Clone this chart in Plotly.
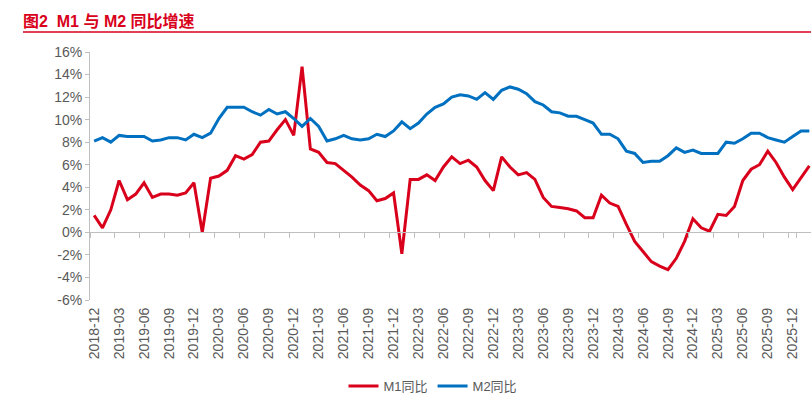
import plotly.graph_objects as go

# ---- data ----
start_year, start_month, n_points = 2018, 12, 87
months = []
y, m = start_year, start_month
for _ in range(n_points):
    months.append(f"{y}-{m:02d}")
    m += 1
    if m > 12:
        m = 1
        y += 1

m1_yoy = [
    1.5,
    0.4, 2.0, 4.6, 2.9, 3.4, 4.4, 3.1, 3.4, 3.4, 3.3, 3.5, 4.4,
    0.0, 4.8, 5.0, 5.5, 6.8, 6.5, 6.9, 8.0, 8.1, 9.1, 10.0, 8.6,
    14.7, 7.4, 7.1, 6.2, 6.1, 5.5, 4.9, 4.2, 3.7, 2.8, 3.0, 3.5,
    -1.9, 4.7, 4.7, 5.1, 4.6, 5.8, 6.7, 6.1, 6.4, 5.8, 4.6, 3.7,
    6.7, 5.8, 5.1, 5.3, 4.7, 3.1, 2.3, 2.2, 2.1, 1.9, 1.3, 1.3,
    3.3, 2.6, 2.3, 0.7, -0.8, -1.7, -2.6, -3.0, -3.3, -2.3, -0.8, 1.2,
    0.4, 0.1, 1.6, 1.5, 2.3, 4.6, 5.6, 6.0, 7.2, 6.2, 4.9, 3.8,
    4.8, 5.9,
]
m2_yoy = [
    8.1,
    8.4, 8.0, 8.6, 8.5, 8.5, 8.5, 8.1, 8.2, 8.4, 8.4, 8.2, 8.7,
    8.4, 8.8, 10.1, 11.1, 11.1, 11.1, 10.7, 10.4, 10.9, 10.5, 10.7, 10.1,
    9.4, 10.1, 9.4, 8.1, 8.3, 8.6, 8.3, 8.2, 8.3, 8.7, 8.5, 9.0,
    9.8, 9.2, 9.7, 10.5, 11.1, 11.4, 12.0, 12.2, 12.1, 11.8, 12.4, 11.8,
    12.6, 12.9, 12.7, 12.3, 11.6, 11.3, 10.7, 10.6, 10.3, 10.3, 10.0, 9.7,
    8.7, 8.7, 8.3, 7.2, 7.0, 6.2, 6.3, 6.3, 6.8, 7.5, 7.1, 7.3,
    7.0, 7.0, 7.0, 8.0, 7.9, 8.3, 8.8, 8.8, 8.4, 8.2, 8.0, 8.5,
    9.0, 9.0,
]
x_tick_labels = months[::3]
y_tick_vals = [-6, -4, -2, 0, 2, 4, 6, 8, 10, 12, 14, 16]
y_tick_text = [f"{v}%" for v in y_tick_vals]
series_names = ["M1同比", "M2同比"]
title_text = "图2  M1 与 M2 同比增速"

# ---- style ----
RED = "#D9001B"
BLUE = "#0070C0"
GRAY_TXT = "#595959"
GRAY_LINE = "#BFBFBF"
FONT = "Liberation Sans, Arial, Noto Sans CJK SC, sans-serif"

W, H = 811, 402
L, R, T, B = 90, 0, 52, 102
y_min, y_max = -6, 16

fig = go.Figure()
fig.add_trace(go.Scatter(x=months, y=m1_yoy, mode="lines", name=series_names[0],
                         line=dict(color=RED, width=3), hoverinfo="x+y"))
fig.add_trace(go.Scatter(x=months, y=m2_yoy, mode="lines", name=series_names[1],
                         line=dict(color=BLUE, width=3), hoverinfo="x+y"))
# invisible trace carrying the zero-crossing axis
fig.add_trace(go.Scatter(x=months, y=m2_yoy, xaxis="x2", mode="lines",
                         line=dict(color="rgba(0,0,0,0)", width=0),
                         showlegend=False, hoverinfo="skip"))

zero_pos = (0 - y_min) / (y_max - y_min)
plot_w = W - L - R
plot_h = H - T - B

fig.update_layout(
    width=W, height=H,
    margin=dict(l=L, r=R, t=T, b=B, autoexpand=False),
    paper_bgcolor="white", plot_bgcolor="white",
    font=dict(family=FONT, color=GRAY_TXT, size=13),
    showlegend=True,
    legend=dict(orientation="h", x=(433 - L) / plot_w, xanchor="center",
                y=(H - B - 386) / plot_h, yanchor="middle",
                font=dict(size=13, color=GRAY_TXT), itemwidth=30,
                tracegroupgap=0),
    xaxis=dict(type="category", categoryorder="array", categoryarray=months,
               range=[-0.5, n_points - 0.8],
               tickmode="array", tickvals=x_tick_labels, ticktext=x_tick_labels,
               tickangle=-90, ticks="", showline=False, showgrid=False,
               zeroline=False, automargin=False, ticklabelstandoff=4,
               tickfont=dict(size=14, color=GRAY_TXT)),
    xaxis2=dict(type="category", categoryorder="array", categoryarray=months,
                matches="x", overlaying="x", anchor="free", position=zero_pos,
                side="bottom",
                tickmode="array", tickvals=x_tick_labels, tickson="boundaries",
                showticklabels=False, ticks="outside", ticklen=5,
                tickcolor=GRAY_LINE, tickwidth=1,
                showline=True, linecolor=GRAY_LINE, linewidth=1,
                showgrid=False, zeroline=False),
    yaxis=dict(range=[y_min, y_max], tickmode="array", tickvals=y_tick_vals,
               ticktext=y_tick_text, showgrid=False, zeroline=False,
               showline=True, linecolor=GRAY_LINE, linewidth=1,
               ticks="outside", ticklen=4, tickcolor=GRAY_LINE, automargin=False,
               tickfont=dict(size=14, color=GRAY_TXT)),
    title=dict(text=f"<b>{title_text}</b>", xref="container", yref="container",
               x=23 / W, xanchor="left", y=1 - 21 / H, yanchor="middle",
               font=dict(family=FONT, size=16, color=RED)),
)

fig.add_shape(type="line", xref="paper", yref="paper",
              x0=(23 - L) / plot_w, x1=(W - L) / plot_w,
              y0=(H - B - 32) / plot_h, y1=(H - B - 32) / plot_h,
              line=dict(color=RED, width=1.5))

fig.write_html("out.html", config={"displayModeBar": False},
               post_script="document.body.style.margin='0';document.body.style.padding='0';")
